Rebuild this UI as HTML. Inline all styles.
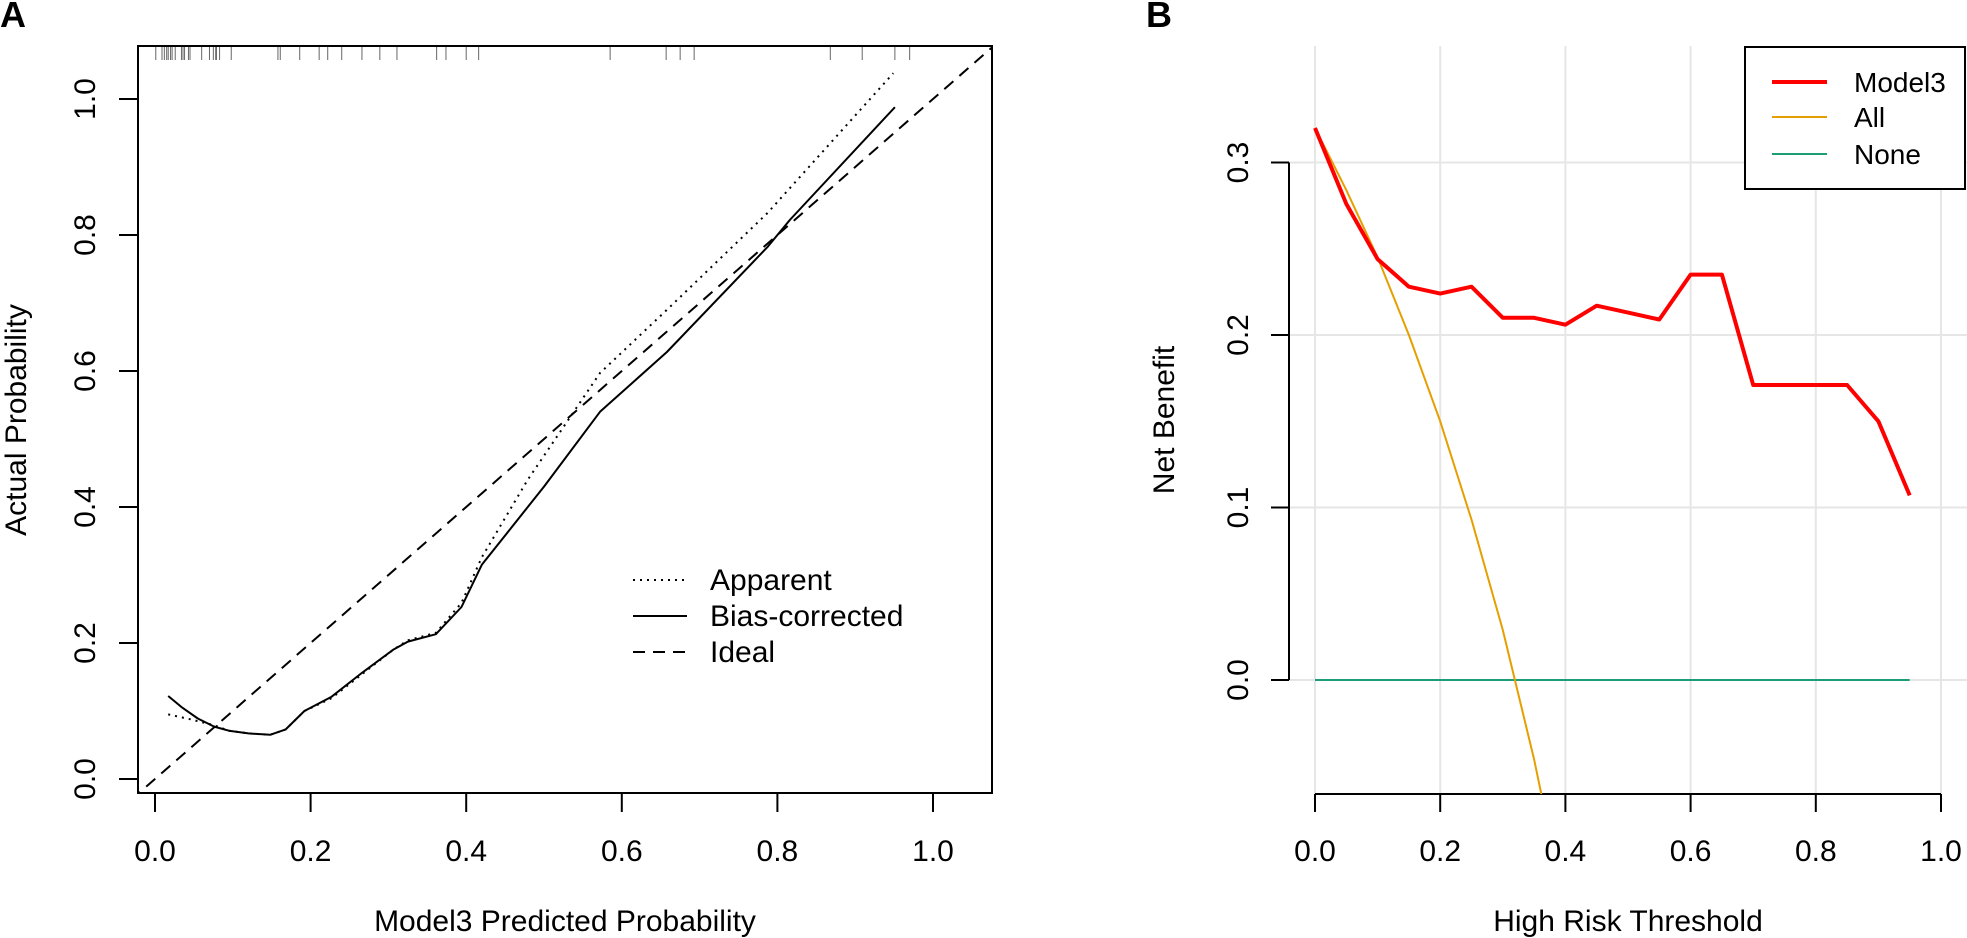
<!DOCTYPE html>
<html><head><meta charset="utf-8"><style>
html,body{margin:0;padding:0;background:#fff;}
svg{display:block;font-family:"Liberation Sans",Arial,sans-serif;}
</style></head><body>
<svg id="fig" width="1967" height="938" viewBox="0 0 1967 938" xmlns="http://www.w3.org/2000/svg">
<text x="0" y="27" font-size="36" font-weight="bold">A</text>
<text x="1146" y="27" font-size="36" font-weight="bold">B</text>
<defs>
<clipPath id="clipA"><rect x="138" y="46" width="854" height="747"/></clipPath>
<clipPath id="clipB"><rect x="1289" y="46" width="678" height="748"/></clipPath>
</defs>
<g id="panelA"></g>
<g id="panelB"></g>
</svg>
<script>
// ---- Panel A data ----
const aTicks = [0, 0.2, 0.4, 0.6, 0.8, 1.0];
const aTickLabels = ["0.0", "0.2", "0.4", "0.6", "0.8", "1.0"];
const biasX = [0.017, 0.035, 0.055, 0.076, 0.095, 0.12, 0.148, 0.168, 0.192, 0.227, 0.266, 0.306, 0.325, 0.361, 0.394, 0.420, 0.50, 0.572, 0.658, 0.787, 0.816, 0.951];
const biasY = [0.122, 0.105, 0.089, 0.077, 0.071, 0.067, 0.065, 0.073, 0.100, 0.121, 0.156, 0.190, 0.202, 0.213, 0.253, 0.315, 0.430, 0.540, 0.628, 0.782, 0.822, 0.988];
const appX = [0.017, 0.045, 0.076, 0.095, 0.12, 0.148, 0.168, 0.192, 0.227, 0.266, 0.306, 0.325, 0.361, 0.394, 0.420, 0.479, 0.572, 0.658, 0.787, 0.949];
const appY = [0.095, 0.088, 0.079, 0.071, 0.067, 0.065, 0.073, 0.100, 0.119, 0.154, 0.190, 0.204, 0.215, 0.259, 0.326, 0.440, 0.597, 0.690, 0.832, 1.038];
const rugX = [0.001,0.009,0.012,0.015,0.017,0.020,0.022,0.026,0.034,0.036,0.038,0.043,0.045,0.060,0.070,0.075,0.078,0.079,0.083,0.098,0.158,0.161,0.186,0.211,0.222,0.240,0.266,0.289,0.311,0.362,0.374,0.400,0.416,0.585,0.657,0.675,0.693,0.868,0.909,0.951,0.970];
// ---- Panel B data ----
const bTicksX = [0, 0.2, 0.4, 0.6, 0.8, 1.0];
const bTickLabelsX = ["0.0", "0.2", "0.4", "0.6", "0.8", "1.0"];
const bTicksY = [0, 0.1, 0.2, 0.3];
const bTickLabelsY = ["0.0", "0.1", "0.2", "0.3"];
const thresholds = [0, 0.05, 0.10, 0.15, 0.20, 0.25, 0.30, 0.35, 0.40, 0.45, 0.50, 0.55, 0.60, 0.65, 0.70, 0.75, 0.80, 0.85, 0.90, 0.95];
const model3NB = [0.320, 0.276, 0.244, 0.228, 0.224, 0.228, 0.210, 0.210, 0.206, 0.217, 0.213, 0.209, 0.235, 0.235, 0.171, 0.171, 0.171, 0.171, 0.150, 0.107];
const allX = [0, 0.05, 0.10, 0.15, 0.20, 0.25, 0.30, 0.35, 0.40];
const allNB = [0.320, 0.284, 0.245, 0.200, 0.150, 0.093, 0.029, -0.046, -0.133];
const noneX = [0, 0.95];
const noneNB = [0, 0];

const NS = "http://www.w3.org/2000/svg";
function mk(parent, tag, attrs){ const e=document.createElementNS(NS,tag); for(const k in attrs) e.setAttribute(k,attrs[k]); parent.appendChild(e); return e; }
const ax = v => 155 + v*778;
const ay = v => 779 - v*680;
const bx = v => 1315 + v*626;
const by = v => 680 - v*1725;
function pathD(xs, ys, fx, fy){ return xs.map((x,i)=>(i?"L":"M")+fx(x).toFixed(1)+","+fy(ys[i]).toFixed(1)).join(" "); }

// ---- Panel A ----
const A = document.getElementById('panelA');
const frame = mk(A,'rect',{x:138,y:46,width:854,height:747,fill:'none',stroke:'#000','stroke-width':2});


rugX.forEach(v=>{
  const l = mk(A,'line',{x1:ax(v),x2:ax(v),y1:47,y2:60,stroke:'#666','stroke-width':1});
  
  
});
aTicks.forEach((v,i)=>{
  const t = mk(A,'line',{x1:ax(v),x2:ax(v),y1:793,y2:812,stroke:'#000','stroke-width':2});
  
  
  const lb = mk(A,'text',{x:ax(v),y:861,'font-size':30,'text-anchor':'middle'}); lb.textContent=aTickLabels[i];
  
  
  const ty = mk(A,'line',{x1:119,x2:138,y1:ay(v),y2:ay(v),stroke:'#000','stroke-width':2});
  
  
  const ly = mk(A,'text',{x:0,y:0,'font-size':30,'text-anchor':'middle',transform:`translate(95,${ay(v)}) rotate(-90)`}); ly.textContent=aTickLabels[i];
  
  
});
const xt = mk(A,'text',{x:565,y:931,'font-size':30,'text-anchor':'middle'}); xt.textContent='Model3 Predicted Probability';


const yt = mk(A,'text',{x:0,y:0,'font-size':30,'text-anchor':'middle',transform:'translate(26,420) rotate(-90)'}); yt.textContent='Actual Probability';


const gA = mk(A,'g',{'clip-path':'url(#clipA)'});
const ideal = mk(gA,'line',{x1:ax(-0.05),y1:ay(-0.05),x2:ax(1.1),y2:ay(1.1),stroke:'#000','stroke-width':2,'stroke-dasharray':'12,8'});


const app = mk(gA,'path',{d:pathD(appX,appY,ax,ay),fill:'none',stroke:'#000','stroke-width':2,'stroke-dasharray':'2,5'});


const bias = mk(gA,'path',{d:pathD(biasX,biasY,ax,ay),fill:'none',stroke:'#000','stroke-width':2,'stroke-linejoin':'round'});


const legA = mk(A,'g',{});


[['Apparent','2,5',580],['Bias-corrected','',616],['Ideal','12,8',652]].forEach(r=>{
  const l = mk(legA,'line',{x1:633,x2:687,y1:r[2],y2:r[2],stroke:'#000','stroke-width':2});
  if(r[1]) l.setAttribute('stroke-dasharray',r[1]);
  
  
  const t = mk(legA,'text',{x:710,y:r[2]+10,'font-size':30}); t.textContent=r[0];
  
  
});

// ---- Panel B ----
const B = document.getElementById('panelB');
bTicksX.forEach(v=>{
  const g = mk(B,'line',{x1:bx(v),x2:bx(v),y1:46,y2:794,stroke:'#e6e6e6','stroke-width':2});
  
  
});
bTicksY.forEach(v=>{
  const g = mk(B,'line',{x1:1289,x2:1967,y1:by(v),y2:by(v),stroke:'#e6e6e6','stroke-width':2});
  
  
});
const xAxB = mk(B,'line',{x1:bx(0),x2:bx(1),y1:794,y2:794,stroke:'#000','stroke-width':2});


const yAxB = mk(B,'line',{x1:1289,x2:1289,y1:by(0),y2:by(0.3),stroke:'#000','stroke-width':2});


bTicksX.forEach((v,i)=>{
  const t = mk(B,'line',{x1:bx(v),x2:bx(v),y1:794,y2:812,stroke:'#000','stroke-width':2});
  
  
  const lb = mk(B,'text',{x:bx(v),y:861,'font-size':30,'text-anchor':'middle'}); lb.textContent=bTickLabelsX[i];
  
  
});
bTicksY.forEach((v,i)=>{
  const t = mk(B,'line',{x1:1271,x2:1289,y1:by(v),y2:by(v),stroke:'#000','stroke-width':2});
  
  
  const lb = mk(B,'text',{x:0,y:0,'font-size':30,'text-anchor':'middle',transform:`translate(1248,${by(v)}) rotate(-90)`}); lb.textContent=bTickLabelsY[i];
  
  
});
const xtB = mk(B,'text',{x:1628,y:931,'font-size':30,'text-anchor':'middle'}); xtB.textContent='High Risk Threshold';


const ytB = mk(B,'text',{x:0,y:0,'font-size':30,'text-anchor':'middle',transform:'translate(1174,420) rotate(-90)'}); ytB.textContent='Net Benefit';


const gB = mk(B,'g',{'clip-path':'url(#clipB)'});
const none = mk(gB,'path',{d:pathD(noneX,noneNB,bx,by),fill:'none',stroke:'#1b9e77','stroke-width':2});


const all = mk(gB,'path',{d:pathD(allX,allNB,bx,by),fill:'none',stroke:'#e69f00','stroke-width':2});


const m3 = mk(gB,'path',{d:pathD(thresholds,model3NB,bx,by),fill:'none',stroke:'#ff0000','stroke-width':4,'stroke-linejoin':'round'});


const legB = mk(B,'g',{});


const box = mk(legB,'rect',{x:1745,y:47,width:220,height:142,fill:'#fff',stroke:'#000','stroke-width':2});


[['Model3','#ff0000',4,82],['All','#e69f00',2,117],['None','#1b9e77',2,154]].forEach(r=>{
  const l = mk(legB,'line',{x1:1772,x2:1827,y1:r[3],y2:r[3],stroke:r[1],'stroke-width':r[2]});
  
  
  const t = mk(legB,'text',{x:1854,y:r[3]+10,'font-size':28}); t.textContent=r[0];
  
  
});
</script>
</body></html>
